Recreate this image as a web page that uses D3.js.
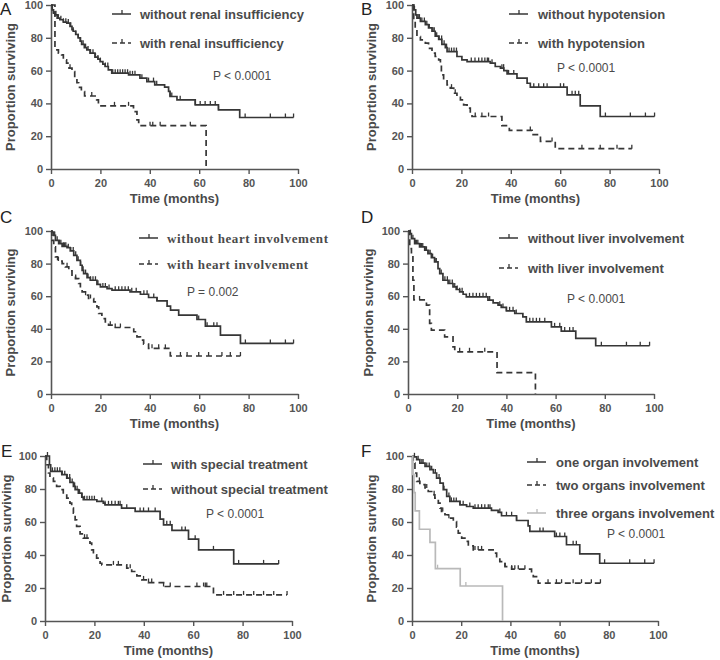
<!DOCTYPE html>
<html><head><meta charset="utf-8">
<script src="https://cdn.jsdelivr.net/npm/d3@7"></script>
<style>body{margin:0;background:#fff} svg{display:block}</style>
</head><body><svg id="c" width="720" height="660"></svg>
<script>
// ---------- tick labels / texts ----------
const xTicks = [0, 20, 40, 60, 80, 100];
const yTicks = [0, 20, 40, 60, 80, 100];
const panelLetters = ["A", "B", "C", "D", "E", "F"];
const pValues = ["P < 0.0001", "P < 0.0001", "P = 0.002", "P < 0.0001", "P < 0.0001", "P < 0.0001"];
const xLabel = "Time (months)";
const yLabel = "Proportion surviving";
const legendA = ["without renal insufficiency", "with renal insufficiency"];
const legendB = ["without hypotension", "with hypotension"];
const legendC = ["without heart involvement", "with heart involvement"];
const legendD = ["without liver involvement", "with liver involvement"];
const legendE = ["with special treatment", "without special treatment"];
const legendF = ["one organ involvement", "two organs involvement", "three organs involvement"];

// ---------- survival steps [month, % surviving] and censor times ----------
const A_without = [[0,100],[0.5,97],[1,95],[1.6,94],[2.5,92],[3.6,91],[5,89.5],[6.4,89],[7.7,87],[8.5,85],[9,84],[10,82],[11,80],[11.8,78],[12.4,76],[13.5,74],[14.5,72.6],[15.8,70.6],[17.8,68.2],[19,67],[19.9,65.5],[21,64],[21.9,62.5],[23.2,60.4],[24.6,58.4],[31.4,57.4],[36,55.4],[38.8,53.3],[42,51.3],[46,49.9],[47.6,47.3],[48.2,44.2],[51,42.2],[58.4,39.1],[67.8,36.1],[76.4,31.4],[98.2,31.4]];
const A_withoutCens = [1,2,3,4,5,6,7,8,9,10,11,12,13,14,15,16,17,18,19,20,22,23,25,26,27,28,29,30,31,32,33,34,36.8,39.5,41.5,42.8,48.2,48.9,52.3,58.4,60.4,62.4,64.5,66.5,67.8,78.6,88.8,94.9,98.2];
const A_with = [[0,100],[1.6,72.6],[3,70.6],[4.3,69.6],[5,66.5],[6.3,64.5],[7.3,61.5],[8.5,59.4],[9.6,55.9],[10.5,52.6],[11.2,49.8],[12.3,47.2],[13.6,44.5],[18.5,42.2],[19.2,38.5],[33.4,35],[34.8,30],[35.5,26.4],[62.8,0]];
const A_withCens = [7.7,16.5,25.7,31.4,40.1,41.2,44.2,56.4];

const B_without = [[0,100],[0.7,97],[1.5,94],[2,92],[3.4,90],[5.4,88],[6.7,86],[8.1,84],[9.4,81],[10.8,79],[12.1,76],[13.5,74],[14.2,71.6],[18.2,68.6],[20.2,66.5],[22.3,65.5],[31.7,64.5],[33.7,62.5],[35.8,61.5],[37.2,60],[38.5,58],[42.5,55.4],[46.6,52.3],[47.9,49.9],[62.8,45.2],[68.1,38.5],[76.2,32],[98.2,32]];
const B_withoutCens = [1,2.5,3,4,5,6,7,8.5,9,10,11,12,13,14,15,16,17,18,24,25.5,27,28.3,29.5,30.5,31,32.4,36.4,37.1,39.1,41.2,49.3,51.3,53.3,54.7,60.1,61.4,64.8,66.1,67.5,78.3,88.4,94.5,98.2];
const B_with = [[0,100],[0.7,91],[1.3,84.8],[2,80.7],[3.4,78.7],[5.4,76.7],[6.7,73.6],[8.1,70.6],[9.4,68.6],[10.8,66.5],[11.5,63.5],[11.9,57.4],[12.8,54.4],[14.2,51.3],[15.5,49.3],[16.9,46.2],[18.2,44.2],[19.6,42.2],[20.9,39.1],[22.3,37.1],[23.6,34.1],[24.3,32],[36.4,26.4],[39.4,23.5],[48.6,20.9],[52,16.8],[58,12.4],[89,12.4]];
const B_withCens = [16,17.5,25.6,28.3,31,47.9,56.7,68.8,76.2,83,89];

const C_without = [[0,100],[0.4,99.4],[1.1,97.3],[1.8,94.3],[3.1,92.2],[4.5,90.6],[6.5,89.8],[7.8,87.8],[9.2,85.1],[10.5,82],[11.9,79],[12.6,75.9],[13.2,73.9],[14.6,71.4],[15.9,69.8],[18.6,67.3],[20,65.7],[22.7,64.7],[24.7,63.7],[32,62.7],[36.2,61.2],[39.5,59.2],[42.9,57.1],[47,53.9],[48.4,51.4],[51.7,48.4],[59.1,45.7],[62.5,41.6],[68.6,36.1],[76.7,31],[98.2,31]];
const C_withoutCens = [1.5,2.5,3.5,4,5,5.5,6,7,8,9,10,11,12,13,14,15,16,17,18,19,21,22,23.5,26,27.4,28.7,30,31.3,32.7,34.5,37.6,38.9,41.6,42.9,59.8,63.2,65.9,67.2,78.7,88.8,94.9,98.2];
const C_with = [[0,100],[0.4,94.3],[1.1,90.2],[1.8,84.1],[2.7,81.6],[4.5,80],[5.8,78],[7.2,75.5],[8.5,72.9],[9.9,70.8],[11.2,67.8],[11.9,64.7],[12.6,62.7],[13.9,60.6],[15.2,58.6],[17.3,56.5],[18.6,53.5],[19.3,49.4],[20.6,46.3],[22,44.3],[23.3,42.2],[24.7,40.8],[33.5,38.2],[34.8,35.1],[36.2,33],[37.5,30.6],[39.5,28],[48.3,23.3],[76.7,23.3]];
const C_withCens = [3,6.5,10,14,16,24,26,28.1,40.9,43.6,46.3,52.4,55.1,59.8,63.8,69.2,72.6,76.7];

const D_without = [[0,100],[0.7,98.4],[1.4,95.3],[2.7,92.2],[4.7,90.2],[6.8,88.2],[8.1,86.1],[9.5,83.7],[10.8,81],[12.2,76.9],[12.9,73.9],[14.2,69.8],[16.3,67.8],[18.3,65.7],[19.6,64.1],[21,62.7],[22.4,61.2],[23.7,59.6],[32.5,57.6],[34.6,55.9],[36.6,54.5],[37.9,53.1],[40,51],[43.4,49.4],[46.7,47.3],[48.1,44.3],[58.3,41.2],[62.3,38.6],[68.2,34.1],[76.3,29.6],[98.2,29.6]];
const D_withoutCens = [1,2,3,3.5,4,5,5.5,6,7,7.5,8.5,9,10,11,11.5,13.5,15,16,17,18,19,20,21,22,25,26.4,27.8,29.1,30.5,31.8,33.2,37.3,38.6,40,41.3,42.7,44,49.5,50.8,52.2,53.5,55.6,59.6,61.7,63.7,65.7,67.1,78.6,88.8,94.4,98.2];
const D_with = [[0,100],[0.7,89.2],[1.4,84.1],[2,69.8],[2.4,57.7],[7.5,54.5],[8.8,43.3],[9.5,39.2],[14.9,35.1],[18.3,28.9],[19,25.9],[36.2,13.1],[51.8,0]];
const D_withCens = [4.7,21,25,31.2];

const E_with = [[0,100],[1.8,94.7],[2.3,90.7],[6.8,88.7],[8.8,86.6],[10.1,84],[11.5,81.6],[12.2,79.6],[13.5,77.5],[14.9,75.1],[15.5,73.5],[21,72.5],[23.6,71.5],[24.3,70.4],[31,68.4],[36.5,66.4],[46.6,61.7],[48,58.3],[51.4,54.9],[58.1,49.6],[62.2,43.1],[76.4,34.6],[94.6,34.6]];
const E_withCens = [1,3,4,5,6,7,8,9,10,11,12,13,14,15,16,17,18,19,20,23,24.3,25.7,27,28.4,29.7,30.4,33.1,38.5,39.9,41.9,44.6,49.3,50.7,55.4,56.8,60.8,68.2,78.4,88.5,94.6];
const E_without = [[0,100],[0.7,94.7],[1.4,89.7],[2,86.6],[3.4,84.6],[4.7,81.6],[6.1,79.6],[7.4,77.1],[8.8,74.5],[10.1,71.5],[10.8,68.4],[11.5,65.4],[12.2,61.3],[12.8,57.3],[14.2,52.8],[15.5,50.2],[18.2,47.2],[18.9,43.1],[19.6,40.1],[20.9,38.1],[22.3,35],[23,34],[33.1,32],[35.1,30],[37.2,27.3],[39.2,24.9],[41.9,23.3],[48,20.9],[68.2,15.8],[98,15.8]];
const E_withoutCens = [16,17,27.7,29.7,34.5,39.9,41.9,43.2,48,50.7,61.5,64.2,64.9,65.5,72.3,76.4,80.4,84.5,88.5,92.6,98];

const F_one = [[0,100],[0.5,99.5],[1.9,97.8],[3.2,95.7],[5.3,93.7],[7.3,91.7],[8.7,89.7],[10,86.6],[11.4,83.6],[12.7,79.6],[14.1,75.5],[15.4,72.5],[19.5,70.4],[22.2,69.4],[24.9,68.4],[32.3,67],[35,65.8],[36.4,63.8],[42.5,60.9],[47.2,57.7],[47.9,54.3],[58,51.2],[62.8,46.2],[68.2,40.7],[76.3,35],[98.4,35]];
const F_oneCens = [1,2.5,4,4.5,6,7,8,9.5,11,13,15,16,17,18,19.5,20.8,23.5,25.6,26.9,28.3,29.6,31,31.7,35.7,38.4,40.5,42.5,52,53.3,58.7,60.1,62.1,65.5,66.8,78.3,88.5,94.6,98.4];
const F_two = [[0,100],[0.5,95.7],[1.2,89.7],[1.9,84.6],[3.2,82.6],[5.3,80.6],[6.6,78.5],[8,76.5],[9.3,74.5],[10.7,71.5],[11.4,68.4],[12,66.4],[13.4,64.4],[14.7,62.3],[16.8,60.3],[18.1,56.9],[18.8,53.2],[20.2,50.2],[21.5,48.2],[22.9,45.5],[24.9,43.1],[33,41.1],[34.4,38.1],[35.7,36],[37.8,33],[40.5,31.4],[48.6,28.9],[49.3,26.9],[51.3,22.9],[76.6,22.9]];
const F_twoCens = [3,6,9,12.5,15,25.6,26.9,28.3,37.8,40.5,41.8,43.2,45.9,55.3,58.7,60.8,65.5,68.9,72.9,76.6];
const F_three = [[0,100],[0.3,88.9],[0.8,77.8],[1.3,66.7],[3,55.6],[7.3,47.6],[9.5,31.7],[19.6,21.2],[36.8,0]];
const F_threeCens = [10.4,21.9];

// ---------- layout (pixels) ----------
const layout = [
  {x0:51, x1:298, yTop:5, yBot:169, ylabX:15, letterX:0, letterY:15, pX:213, pY:80, legX:112, legTextX:140, legY:[14,43], serif:false},
  {x0:412, x1:659, yTop:5, yBot:169, ylabX:376, letterX:361, letterY:15, pX:557, pY:72, legX:509, legTextX:538, legY:[14,43], serif:false},
  {x0:51, x1:298, yTop:231, yBot:394, ylabX:15, letterX:0, letterY:223, pX:187, pY:296, legX:139, legTextX:167, legY:[238,264], serif:true},
  {x0:408, x1:654, yTop:231, yBot:394, ylabX:373, letterX:361, letterY:223, pX:567, pY:303, legX:499, legTextX:528, legY:[238,268], serif:false},
  {x0:45, x1:292, yTop:456, yBot:621, ylabX:11, letterX:1, letterY:457, pX:206, pY:518, legX:143, legTextX:171, legY:[464,489], serif:false},
  {x0:412, x1:658, yTop:456, yBot:621, ylabX:376, letterX:361, letterY:457, pX:607, pY:538, legX:527, legTextX:556, legY:[462,485,513], serif:false}
];

const panelSeries = [
  [{steps:A_without, cens:A_withoutCens, dash:false, gray:false},{steps:A_with, cens:A_withCens, dash:true, gray:false}],
  [{steps:B_without, cens:B_withoutCens, dash:false, gray:false},{steps:B_with, cens:B_withCens, dash:true, gray:false}],
  [{steps:C_without, cens:C_withoutCens, dash:false, gray:false},{steps:C_with, cens:C_withCens, dash:true, gray:false}],
  [{steps:D_without, cens:D_withoutCens, dash:false, gray:false},{steps:D_with, cens:D_withCens, dash:true, gray:false}],
  [{steps:E_with, cens:E_withCens, dash:false, gray:false},{steps:E_without, cens:E_withoutCens, dash:true, gray:false}],
  [{steps:F_one, cens:F_oneCens, dash:false, gray:false},{steps:F_two, cens:F_twoCens, dash:true, gray:false},{steps:F_three, cens:F_threeCens, dash:false, gray:true}]
];
const panelLegends = [legendA, legendB, legendC, legendD, legendE, legendF];

const svg = d3.select("#c");
const INK = "#363636", AX = "#555", TXT = "#4a4a4a", GRAY = "#b9b9b9";
const SANS = "Liberation Sans, Arial, Helvetica, sans-serif";
const SERIF = "Liberation Serif, Times New Roman, serif";

function survAt(steps, t) {
  let s = steps[0][1];
  for (const d of steps) { if (d[0] <= t) s = d[1]; else break; }
  return s;
}

layout.forEach((L, i) => {
  const g = svg.append("g");
  const x = d3.scaleLinear().domain([0, 100]).range([L.x0, L.x1]);
  const y = d3.scaleLinear().domain([0, 100]).range([L.yBot, L.yTop]);

  // axes
  const xa = g.append("g").attr("transform", `translate(0,${L.yBot})`)
    .call(d3.axisBottom(x).tickValues(xTicks).tickSize(5).tickSizeOuter(0).tickPadding(5));
  const ya = g.append("g").attr("transform", `translate(${L.x0},0)`)
    .call(d3.axisLeft(y).tickValues(yTicks).tickSize(5).tickSizeOuter(0).tickPadding(3));
  [xa, ya].forEach(a => {
    a.select(".domain").attr("stroke", AX).attr("stroke-width", 1.6);
    a.selectAll(".tick line").attr("stroke", AX).attr("stroke-width", 1.4);
    a.selectAll(".tick text").attr("fill", "#555").attr("font-family", SANS)
      .attr("font-size", 11).attr("font-weight", "bold");
  });

  // axis titles
  g.append("text").attr("x", (L.x0 + L.x1) / 2).attr("y", L.yBot + 34)
    .attr("text-anchor", "middle").attr("font-family", SANS).attr("font-size", 13)
    .attr("font-weight", "bold").attr("fill", TXT).text(xLabel);
  g.append("text")
    .attr("transform", `translate(${L.ylabX},${(L.yTop + L.yBot) / 2}) rotate(-90)`)
    .attr("text-anchor", "middle").attr("font-family", SANS).attr("font-size", 13)
    .attr("font-weight", "bold").attr("fill", TXT).text(yLabel);

  // panel letter
  g.append("text").attr("x", L.letterX).attr("y", L.letterY)
    .attr("font-family", SANS).attr("font-size", 17).attr("fill", "#222").text(panelLetters[i]);

  // p value
  g.append("text").attr("x", L.pX).attr("y", L.pY)
    .attr("font-family", SANS).attr("font-size", 12).attr("fill", TXT).text(pValues[i]);

  // curves
  const line = d3.line().x(d => x(d[0])).y(d => y(d[1])).curve(d3.curveStepAfter);
  panelSeries[i].forEach(s => {
    const col = s.gray ? GRAY : INK;
    g.append("path").attr("d", line(s.steps)).attr("fill", "none")
      .attr("stroke", col).attr("stroke-width", 1.7)
      .attr("stroke-dasharray", s.dash ? "6,4" : null);
    g.append("g").selectAll("line").data(s.cens).join("line")
      .attr("x1", d => x(d)).attr("x2", d => x(d))
      .attr("y1", d => y(survAt(s.steps, d)))
      .attr("y2", d => y(survAt(s.steps, d)) - 4)
      .attr("stroke", col).attr("stroke-width", 1.3);
  });

  // legend
  panelLegends[i].forEach((label, k) => {
    const s = panelSeries[i][k];
    const col = s.gray ? GRAY : INK;
    const ly = L.legY[k];
    g.append("line").attr("x1", L.legX).attr("x2", L.legX + 19).attr("y1", ly).attr("y2", ly)
      .attr("stroke", col).attr("stroke-width", 1.5)
      .attr("stroke-dasharray", s.dash ? "5,3" : null);
    g.append("line").attr("x1", L.legX + 10).attr("x2", L.legX + 10).attr("y1", ly).attr("y2", ly - 4)
      .attr("stroke", col).attr("stroke-width", 1.3);
    const t = g.append("text").attr("x", L.legTextX).attr("y", ly + 5)
      .attr("fill", TXT).attr("font-weight", "bold").text(label);
    if (L.serif) t.attr("font-family", SERIF).attr("font-size", 13).attr("letter-spacing", 0.6);
    else t.attr("font-family", SANS).attr("font-size", 13);
  });
});
</script>
</body></html>
